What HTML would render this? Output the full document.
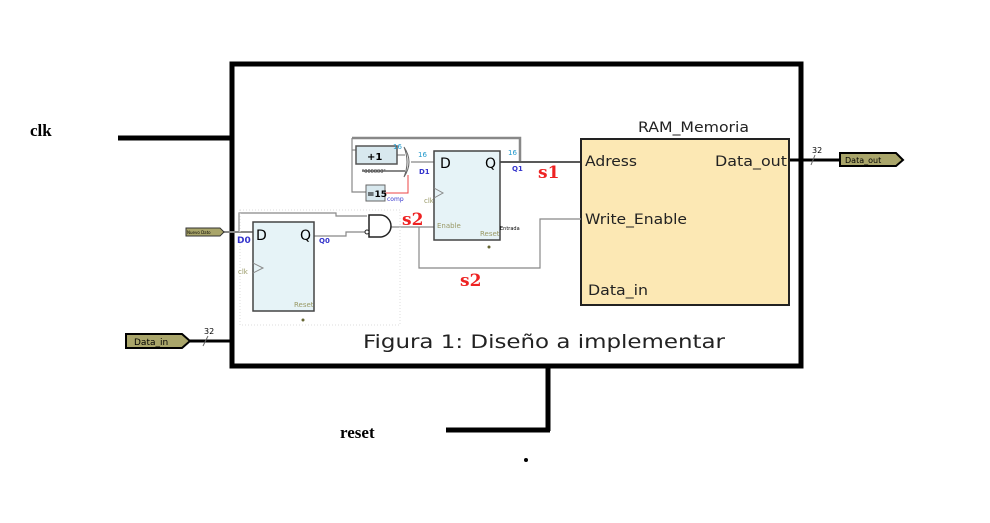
<!DOCTYPE html>
<html><head><style>body{margin:0;background:#fff}svg{display:block}</style></head><body>
<svg width="990" height="523" viewBox="0 0 990 523" xmlns="http://www.w3.org/2000/svg" font-family="DejaVu Sans, sans-serif">
<rect width="990" height="523" fill="#fff"/>
<rect x="232" y="64" width="569" height="302" fill="none" stroke="#000" stroke-width="5"/>
<line x1="118" y1="138" x2="232" y2="138" stroke="#000" stroke-width="5"/>
<text x="30" y="136" font-family="Liberation Serif, serif" font-weight="bold" font-size="17">clk</text>
<line x1="548" y1="366" x2="548" y2="431" stroke="#000" stroke-width="5"/>
<line x1="446" y1="430" x2="550" y2="430" stroke="#000" stroke-width="5"/>
<text x="340" y="438" font-family="Liberation Serif, serif" font-weight="bold" font-size="17">reset</text>
<circle cx="526" cy="460" r="2" fill="#000"/>
<polygon points="126,334 182,334 190,341 182,348 126,348" fill="#a9a56a" stroke="#000" stroke-width="2"/>
<text x="134" y="345" font-size="9">Data_in</text>
<line x1="190" y1="341" x2="232" y2="341" stroke="#000" stroke-width="3"/>
<line x1="203" y1="346" x2="208" y2="336" stroke="#666"/>
<text x="204" y="334" font-size="8">32</text>
<line x1="789" y1="160" x2="840" y2="160" stroke="#000" stroke-width="3"/>
<line x1="811" y1="165" x2="815" y2="155" stroke="#666"/>
<text x="812" y="153" font-size="8">32</text>
<polygon points="840,153 896,153 903,160 896,166 840,166" fill="#a9a56a" stroke="#000" stroke-width="2"/>
<text x="845" y="163" font-size="8">Data_out</text>
<rect x="581" y="139" width="208" height="166" fill="#fce8b4" stroke="#222" stroke-width="2"/>
<text x="638" y="132" font-size="14" fill="#222" textLength="111" lengthAdjust="spacingAndGlyphs">RAM_Memoria</text>
<text x="585" y="166" font-size="14" fill="#222" textLength="52" lengthAdjust="spacingAndGlyphs">Adress</text>
<text x="715" y="166" font-size="14" fill="#222" textLength="72" lengthAdjust="spacingAndGlyphs">Data_out</text>
<text x="585" y="224" font-size="14" fill="#222" textLength="102" lengthAdjust="spacingAndGlyphs">Write_Enable</text>
<text x="588" y="295" font-size="14" fill="#222" textLength="60" lengthAdjust="spacingAndGlyphs">Data_in</text>
<text x="363" y="348" font-size="19" fill="#222" textLength="362" lengthAdjust="spacingAndGlyphs">Figura 1: Diseño a implementar</text>
<g stroke="#888" fill="none" stroke-width="1.2">
<polyline points="352,138 520,138 520,161" stroke-width="2.5"/>
<polyline points="352,138 352,192 366,192"/>
<polyline points="352,150 356,150"/>
<line x1="397" y1="155" x2="405" y2="155"/>
<line x1="362" y1="171" x2="405" y2="171" stroke-width="2"/>
<line x1="411" y1="162" x2="434" y2="162"/>
<polyline points="419,258 419,268 540,268 540,219 581,219"/>
<polyline points="239,232 239,213 336,213 336,216 367,216"/>
<polyline points="314,236 346,236 346,232 367,232"/>
<polyline points="391,227 434,227"/>
<line x1="419" y1="227" x2="419" y2="258"/>
</g>
<polyline points="385,193 408,193 408,175" stroke="#e44" fill="none"/>
<line x1="500" y1="162" x2="581" y2="162" stroke="#222" stroke-width="1.5"/>
<line x1="205" y1="232" x2="253" y2="232" stroke="#888" stroke-width="2"/>
<rect x="240" y="210" width="160" height="115" fill="none" stroke="#ddd" stroke-dasharray="1,2"/>
<rect x="356" y="146" width="41" height="18" fill="#d8e8ee" stroke="#555" stroke-width="1.5"/>
<text x="367" y="160" font-size="10" font-weight="bold">+1</text>
<path d="M404,147 Q414,162 404,177 Q410,162 404,147" fill="#fff" stroke="#666"/>
<rect x="366" y="185" width="19" height="16" fill="#d8e8ee" stroke="#666"/>
<text x="367" y="197" font-size="9" font-weight="bold">=15</text>
<text x="387" y="201" font-size="6" fill="#33c">comp</text>
<text x="362" y="173" font-size="5" fill="#333">"000000"</text>
<text x="393" y="149" font-size="7" fill="#29c">16</text>
<text x="418" y="157" font-size="7" fill="#29c">16</text>
<text x="419" y="174" font-size="7" font-weight="bold" fill="#33c">D1</text>
<text x="508" y="155" font-size="7" fill="#29c">16</text>
<text x="512" y="171" font-size="7" font-weight="bold" fill="#33c">Q1</text>
<rect x="434" y="151" width="66" height="89" fill="#e6f3f7" stroke="#444" stroke-width="1.5"/>
<text x="440" y="168" font-size="14">D</text>
<text x="485" y="168" font-size="14">Q</text>
<polyline points="434,188 443,193 434,198" fill="none" stroke="#888"/>
<text x="424" y="203" font-size="7" fill="#996">clk</text>
<text x="437" y="228" font-size="7" fill="#996">Enable</text>
<text x="480" y="236" font-size="7" fill="#996">Reset</text>
<text x="500" y="230" font-size="5">Entrada</text>
<circle cx="489" cy="247" r="1.5" fill="#663"/>
<rect x="253" y="222" width="61" height="89" fill="#e6f3f7" stroke="#444" stroke-width="1.5"/>
<text x="256" y="240" font-size="14">D</text>
<text x="300" y="240" font-size="14">Q</text>
<polyline points="253,263 263,268 253,273" fill="none" stroke="#888"/>
<text x="238" y="274" font-size="7" fill="#996">clk</text>
<text x="294" y="307" font-size="7" fill="#996">Reset</text>
<circle cx="303" cy="320" r="1.5" fill="#663"/>
<text x="237" y="243" font-size="9" font-weight="bold" fill="#33c">D0</text>
<text x="319" y="243" font-size="7" font-weight="bold" fill="#33c">Q0</text>
<polygon points="186,228 220,228 224,232 220,236 186,236" fill="#a9a56a" stroke="#333"/>
<text x="187" y="234" font-size="4">Nuevo Dato</text>
<path d="M369,215 L380,215 A11,11 0 0 1 380,237 L369,237 Z" fill="#fff" stroke="#222" stroke-width="1.5"/>
<circle cx="367" cy="232" r="2" fill="#fff" stroke="#222"/>
<text x="538" y="178" font-family="DejaVu Serif, serif" font-weight="bold" font-size="17" fill="#e22">s1</text>
<text x="402" y="225" font-family="DejaVu Serif, serif" font-weight="bold" font-size="17" fill="#e22">s2</text>
<text x="460" y="286" font-family="DejaVu Serif, serif" font-weight="bold" font-size="17" fill="#e22">s2</text>
</svg>
</body></html>
